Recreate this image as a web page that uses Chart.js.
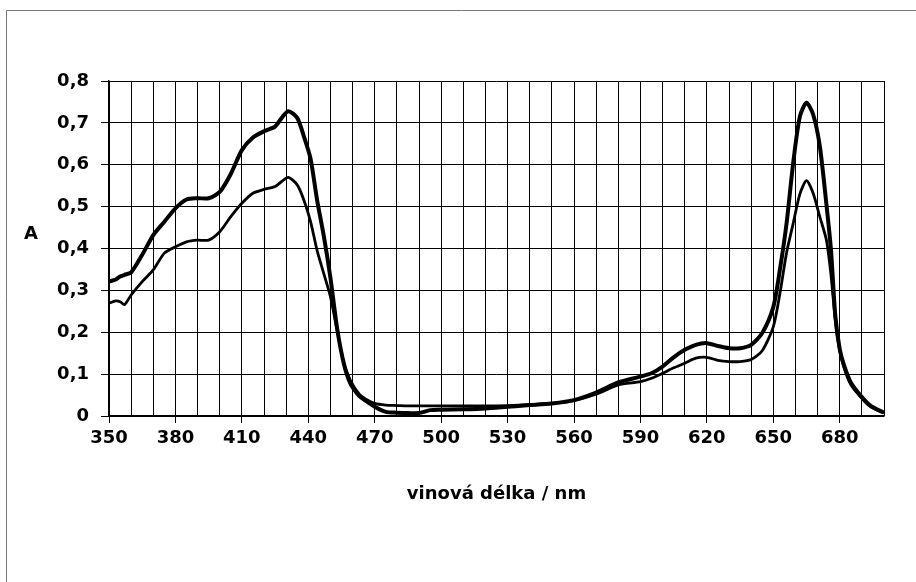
<!DOCTYPE html>
<html>
<head>
<meta charset="utf-8">
<script src="https://cdn.jsdelivr.net/npm/chart.js@4"></script>
<style>
  body { margin: 0; background: #fff; }
  #chart { display: block; }
</style>
</head>
<body>
<canvas id="chart" width="916" height="582"></canvas>
<script>
// wavelength samples (nm)
var wavelength = [350, 353, 355, 357, 360, 365, 370, 375, 380, 385, 390, 395, 400, 405, 410, 415, 420, 425, 428, 431,
    435, 438, 441, 444, 447, 450, 453, 456, 459, 463, 466, 470, 475, 480, 485, 490, 495, 500, 510, 520,
    530, 540, 550, 560, 570, 580, 590, 595, 600, 605, 610, 615, 620, 625, 630, 635, 640, 645, 650, 653,
    656, 659, 662, 665, 668, 671, 674, 676, 678, 680, 682, 685, 690, 694, 700]

// absorbance, thick curve
var absThick = [0.321, 0.326, 0.333, 0.337, 0.343, 0.385, 0.432, 0.464, 0.496, 0.517, 0.520, 0.520, 0.535, 0.578, 0.635, 0.665, 0.680, 0.691, 0.712, 0.728,
    0.712, 0.668, 0.615, 0.515, 0.430, 0.330, 0.210, 0.126, 0.078, 0.048, 0.036, 0.022, 0.010, 0.008, 0.007, 0.007, 0.014, 0.015, 0.016, 0.018,
    0.022, 0.026, 0.030, 0.038, 0.056, 0.080, 0.094, 0.102, 0.118, 0.140, 0.158, 0.170, 0.174, 0.167, 0.162, 0.162, 0.170, 0.198, 0.260, 0.350,
    0.460, 0.605, 0.715, 0.748, 0.720, 0.645, 0.505, 0.400, 0.240, 0.160, 0.120, 0.080, 0.045, 0.024, 0.008]

// absorbance, thin curve
var absThin = [0.269, 0.275, 0.273, 0.266, 0.289, 0.321, 0.349, 0.389, 0.404, 0.416, 0.420, 0.420, 0.440, 0.476, 0.508, 0.532, 0.541, 0.548, 0.560, 0.570,
    0.552, 0.516, 0.465, 0.395, 0.340, 0.285, 0.205, 0.128, 0.085, 0.052, 0.040, 0.030, 0.026, 0.025, 0.024, 0.024, 0.024, 0.024, 0.024, 0.024,
    0.025, 0.027, 0.030, 0.037, 0.052, 0.074, 0.082, 0.090, 0.102, 0.115, 0.126, 0.138, 0.140, 0.133, 0.130, 0.130, 0.135, 0.156, 0.213, 0.293,
    0.390, 0.460, 0.530, 0.562, 0.532, 0.476, 0.420, 0.340, 0.230, 0.155, 0.115, 0.075, 0.042, 0.022, 0.007]

var xTitle = 'vinová délka / nm'
var yTitle = 'A'

function toPoints(ys){
    return wavelength.map(function(w, i){ return {x: w, y: ys[i]} })
}

var FONT = '"DejaVu Sans", "Liberation Sans", Arial, sans-serif'

// frame + axis titles
var extras = {
    id: 'extras',
    beforeDraw: function(chart){
        var ctx = chart.ctx
        ctx.save()
        ctx.strokeStyle = '#777'
        ctx.lineWidth = 1
        ctx.beginPath()
        ctx.moveTo(6.5, 582)
        ctx.lineTo(6.5, 10.5)
        ctx.lineTo(916, 10.5)
        ctx.stroke()
        ctx.restore()
    },
    afterDraw: function(chart){
        var ctx = chart.ctx
        var area = chart.chartArea
        ctx.save()
        ctx.fillStyle = '#000'
        ctx.font = 'bold 18px ' + FONT
        ctx.textAlign = 'center'
        ctx.textBaseline = 'middle'
        ctx.fillText(xTitle, (area.left + area.right) / 2, 494)
        ctx.fillText(yTitle, 31, 234)
        ctx.restore()
    }
}

new Chart(document.getElementById('chart'), {
    type: 'line',
    data: {
        datasets: [{
            data: toPoints(absThick),
            borderColor: '#000',
            borderWidth: 4,
            pointRadius: 0,
            tension: 0.25,
            fill: false
        }, {
            data: toPoints(absThin),
            borderColor: '#000',
            borderWidth: 2.8,
            pointRadius: 0,
            tension: 0.25,
            fill: false
        }]
    },
    options: {
        responsive: false,
        animation: false,
        devicePixelRatio: 1,
        layout: {padding: {left: 0, right: 32, top: 81, bottom: 0}},
        plugins: {legend: {display: false}, tooltip: {enabled: false}},
        scales: {
            x: {
                type: 'linear',
                min: 350,
                max: 700,
                afterFit: function(scale){ scale.height = 166 },
                border: {color: '#000', width: 1.5},
                grid: {
                    color: '#000',
                    lineWidth: 1,
                    tickLength: 7,
                    tickColor: function(c){
                        var v = c.tick ? c.tick.value : 0
                        return ((v - 350) % 30 === 0 && v <= 680) ? '#000' : 'rgba(0,0,0,0)'
                    }
                },
                ticks: {
                    stepSize: 10,
                    autoSkip: false,
                    maxRotation: 0,
                    padding: 5,
                    color: '#000',
                    font: {family: FONT, size: 18, weight: 'bold'},
                    callback: function(v){
                        return ((v - 350) % 30 === 0 && v <= 680) ? String(v) : ''
                    }
                }
            },
            y: {
                min: 0,
                max: 0.8,
                afterFit: function(scale){ scale.width = 109 },
                border: {color: '#000', width: 1.5},
                grid: {color: '#000', lineWidth: 1, tickLength: 8, tickColor: '#000'},
                ticks: {
                    stepSize: 0.1,
                    padding: 12,
                    color: '#000',
                    font: {family: FONT, size: 18, weight: 'bold'},
                    callback: function(v){
                        return v === 0 ? '0' : v.toFixed(1).replace('.', ',')
                    }
                }
            }
        }
    },
    plugins: [extras]
})
</script>
</body>
</html>
